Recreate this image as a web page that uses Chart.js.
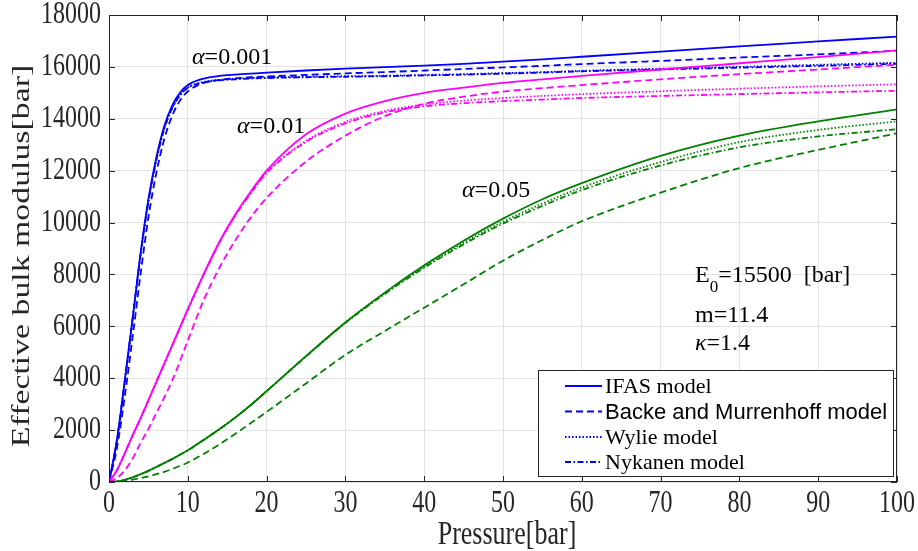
<!DOCTYPE html>
<html>
<head>
<meta charset="utf-8">
<script src="https://cdn.jsdelivr.net/npm/chart.js@4.4.1/dist/chart.umd.min.js"></script>
<style>
  html, body { margin: 0; padding: 0; background: #fff; }
</style>
</head>
<body>
<canvas id="chart" width="918" height="551"></canvas>
<script>
// Pressure samples [bar]
const pressure = [0, 1, 2, 3, 4, 5, 6, 7, 8, 9, 10, 12, 14, 16, 18, 20, 25, 30, 35, 40, 45, 50, 55, 60, 70, 80, 90, 100];

// alpha = 0.001 (blue)
const ifas001  = [0, 1600, 3900, 6300, 8800, 10900, 12500, 13700, 14500, 15000, 15300, 15550, 15650, 15700, 15740, 15780, 15860, 15930, 15990, 16050, 16120, 16200, 16290, 16390, 16590, 16790, 16980, 17170];
const backe001 = [0, 1300, 3300, 5600, 8000, 10200, 11900, 13200, 14100, 14700, 15050, 15380, 15500, 15560, 15600, 15630, 15690, 15750, 15800, 15860, 15920, 15980, 16040, 16110, 16230, 16360, 16480, 16620];
const wylie001 = [0, 1600, 3900, 6300, 8750, 10800, 12400, 13600, 14400, 14900, 15200, 15420, 15500, 15540, 15570, 15590, 15620, 15640, 15660, 15690, 15720, 15760, 15800, 15850, 15930, 16000, 16080, 16160];
const nyk001   = [0, 1600, 3900, 6300, 8750, 10800, 12400, 13600, 14400, 14900, 15200, 15400, 15480, 15520, 15550, 15570, 15600, 15620, 15640, 15670, 15700, 15740, 15780, 15830, 15900, 15970, 16040, 16120];

// alpha = 0.01 (magenta)
const ifas01  = [0, 450, 1100, 1800, 2450, 3150, 3850, 4550, 5250, 5950, 6650, 8000, 9250, 10300, 11200, 12000, 13400, 14200, 14680, 15000, 15200, 15380, 15520, 15650, 15900, 16140, 16380, 16640];
const backe01 = [0, 150, 450, 900, 1500, 2050, 2650, 3250, 3900, 4650, 5450, 7000, 8250, 9300, 10200, 10950, 12350, 13350, 14100, 14580, 14850, 15050, 15180, 15300, 15520, 15720, 15900, 16080];
const wylie01 = [0, 450, 1100, 1800, 2450, 3150, 3850, 4550, 5250, 5950, 6650, 7980, 9220, 10260, 11140, 11930, 13150, 13880, 14300, 14550, 14700, 14800, 14880, 14950, 15060, 15160, 15250, 15330];
const nyk01   = [0, 450, 1100, 1800, 2450, 3150, 3850, 4550, 5250, 5950, 6650, 7980, 9220, 10260, 11130, 11910, 13110, 13820, 14250, 14480, 14600, 14680, 14740, 14800, 14880, 14950, 15020, 15080];

// alpha = 0.05 (green)
const ifas05  = [0, 20, 80, 180, 300, 430, 580, 730, 880, 1050, 1220, 1620, 2030, 2480, 2970, 3500, 4850, 6150, 7300, 8350, 9300, 10150, 10900, 11520, 12570, 13350, 13900, 14360];
const backe05 = [0, 10, 40, 90, 150, 220, 300, 390, 500, 620, 750, 1080, 1450, 1850, 2270, 2700, 3800, 4900, 5820, 6720, 7620, 8530, 9330, 10050, 11150, 12100, 12800, 13440];
const wylie05 = [0, 20, 80, 180, 300, 430, 580, 730, 880, 1050, 1220, 1620, 2030, 2480, 2970, 3500, 4850, 6150, 7280, 8300, 9220, 10030, 10730, 11350, 12330, 13100, 13570, 13900];
const nyk05   = [0, 20, 80, 180, 300, 430, 580, 730, 880, 1050, 1220, 1620, 2030, 2480, 2970, 3500, 4840, 6130, 7250, 8260, 9160, 9960, 10640, 11250, 12200, 12900, 13320, 13600];

// Axis ticks
const xTicks = [0, 10, 20, 30, 40, 50, 60, 70, 80, 90, 100];
const yTicks = [0, 2000, 4000, 6000, 8000, 10000, 12000, 14000, 16000, 18000];

const legendLabels = ['IFAS model', 'Backe and Murrenhoff model', 'Wylie model', 'Nykanen model'];

// Line styles
const SOLID = [];
const DASHED = [7, 4];
const DOTTED = [1.5, 2];
const DASHDOT = [6, 2.5, 1.5, 2.5];
const styles = [SOLID, DASHED, DOTTED, DASHDOT];

const BLUE = '#0000ff';
const MAGENTA = '#ff00ff';
const GREEN = '#008000';
const AXIS = '#262626';
const SERIF = '"Liberation Serif", "Times New Roman", serif';
const SANS = '"Liberation Sans", Arial, sans-serif';

function series(label, values, color, dash) {
  return {
    label,
    data: values.map((v, i) => ({ x: pressure[i], y: v })),
    borderColor: color,
    borderDash: dash,
    borderWidth: 1.8,
    pointRadius: 0,
    fill: false,
    cubicInterpolationMode: 'monotone'
  };
}

const datasets = [
  series('Backe 0.05', backe05, GREEN, DASHED),
  series('Nykanen 0.05', nyk05, GREEN, DASHDOT),
  series('Wylie 0.05', wylie05, GREEN, DOTTED),
  series('IFAS 0.05', ifas05, GREEN, SOLID),
  series('Backe 0.01', backe01, MAGENTA, DASHED),
  series('Nykanen 0.01', nyk01, MAGENTA, DASHDOT),
  series('Wylie 0.01', wylie01, MAGENTA, DOTTED),
  series('IFAS 0.01', ifas01, MAGENTA, SOLID),
  series('Backe 0.001', backe001, BLUE, DASHED),
  series('Nykanen 0.001', nyk001, BLUE, DASHDOT),
  series('Wylie 0.001', wylie001, BLUE, DOTTED),
  series('IFAS 0.001', ifas001, BLUE, SOLID)
];

function greekLabel(ctx, greek, rest, x, y, size) {
  ctx.font = 'italic ' + size + 'px ' + SERIF;
  ctx.fillText(greek, x, y);
  const w = ctx.measureText(greek).width;
  ctx.font = size + 'px ' + SERIF;
  ctx.fillText(rest, x + w, y);
}

// text drawn taller than wide, the way the original figure was stretched
function tallText(ctx, text, x, y, size, align) {
  ctx.save();
  ctx.translate(x, y);
  ctx.scale(1, 1.3);
  ctx.font = size + 'px ' + SERIF;
  ctx.textAlign = align;
  ctx.textBaseline = 'middle';
  ctx.fillText(text, 0, 0);
  ctx.restore();
}

const decorations = {
  id: 'decorations',
  afterDraw(chart) {
    const { ctx, chartArea: a, scales: { x, y } } = chart;
    ctx.save();

    // box and inner ticks
    ctx.strokeStyle = AXIS;
    ctx.lineWidth = 1;
    ctx.setLineDash([]);
    ctx.strokeRect(a.left + 0.5, a.top + 0.5, a.width - 1, a.height - 1);
    ctx.beginPath();
    xTicks.forEach(v => {
      const px = Math.round(x.getPixelForValue(v)) + 0.5;
      ctx.moveTo(px, a.bottom); ctx.lineTo(px, a.bottom - 6);
      ctx.moveTo(px, a.top); ctx.lineTo(px, a.top + 6);
    });
    yTicks.forEach(v => {
      const py = Math.round(y.getPixelForValue(v)) + 0.5;
      ctx.moveTo(a.left, py); ctx.lineTo(a.left + 6, py);
      ctx.moveTo(a.right, py); ctx.lineTo(a.right - 6, py);
    });
    ctx.stroke();

    // tick labels
    ctx.fillStyle = AXIS;
    xTicks.forEach(v => tallText(ctx, String(v), x.getPixelForValue(v), a.bottom + 22, 24, 'center'));
    yTicks.forEach(v => tallText(ctx, String(v), a.left - 8, y.getPixelForValue(v), 24, 'right'));

    // axis titles
    tallText(ctx, 'Pressure[bar]', (a.left + a.right) / 2 + 4, 535, 26, 'center');
    ctx.save();
    ctx.translate(22, 256);
    ctx.rotate(-Math.PI / 2);
    ctx.scale(1.3, 1);
    ctx.font = '26px ' + SERIF;
    ctx.textAlign = 'center';
    ctx.textBaseline = 'middle';
    ctx.fillText('Effective bulk modulus[bar]', 0, 0);
    ctx.restore();

    // alpha labels
    ctx.fillStyle = '#000';
    ctx.textAlign = 'left';
    ctx.textBaseline = 'alphabetic';
    greekLabel(ctx, 'α', '=0.001', 192, 64, 24);
    greekLabel(ctx, 'α', '=0.01', 237, 133, 24);
    greekLabel(ctx, 'α', '=0.05', 462, 197, 24);

    // parameters
    ctx.font = '24px ' + SERIF;
    ctx.fillText('E', 695, 282);
    let ex = 695 + ctx.measureText('E').width;
    ctx.font = '17px ' + SERIF;
    ctx.fillText('0', ex, 292);
    ex += ctx.measureText('0').width;
    ctx.font = '24px ' + SERIF;
    ctx.fillText('=15500  [bar]', ex, 282);
    ctx.fillText('m=11.4', 695, 322);
    greekLabel(ctx, 'κ', '=1.4', 695, 350, 24);

    // legend
    const lx = 538.5, ly = 370.5, lw = 355, lh = 106;
    ctx.fillStyle = '#fff';
    ctx.fillRect(lx, ly, lw, lh);
    ctx.strokeStyle = AXIS;
    ctx.lineWidth = 1;
    ctx.strokeRect(lx, ly, lw, lh);
    const rows = [386, 411.5, 437, 462];
    legendLabels.forEach((label, i) => {
      ctx.strokeStyle = BLUE;
      ctx.lineWidth = 1.8;
      ctx.setLineDash(styles[i]);
      ctx.beginPath();
      ctx.moveTo(565, rows[i]);
      ctx.lineTo(602, rows[i]);
      ctx.stroke();
      ctx.setLineDash([]);
      ctx.fillStyle = '#000';
      ctx.textBaseline = 'middle';
      ctx.font = '22px ' + (i === 1 ? SANS : SERIF);
      ctx.fillText(label, 605, rows[i] + 1);
    });
    ctx.restore();
  }
};

new Chart(document.getElementById('chart').getContext('2d'), {
  type: 'line',
  data: { datasets },
  options: {
    responsive: false,
    devicePixelRatio: 1,
    animation: false,
    layout: { padding: { left: 0, top: 15, right: 21, bottom: 0 } },
    plugins: { legend: { display: false }, tooltip: { enabled: false } },
    scales: {
      x: {
        type: 'linear',
        min: 0,
        max: 100,
        afterFit: s => { s.height = 69; s.paddingLeft = 0; s.paddingRight = 0; },
        afterBuildTicks: s => { s.ticks = xTicks.map(v => ({ value: v })); },
        grid: { color: '#e3e3e3', drawTicks: false },
        border: { display: false },
        ticks: { display: false }
      },
      y: {
        type: 'linear',
        min: 0,
        max: 18000,
        afterFit: s => { s.width = 109; s.paddingTop = 0; s.paddingBottom = 0; },
        afterBuildTicks: s => { s.ticks = yTicks.map(v => ({ value: v })); },
        grid: { color: '#e3e3e3', drawTicks: false },
        border: { display: false },
        ticks: { display: false }
      }
    }
  },
  plugins: [decorations]
});
</script>
</body>
</html>
